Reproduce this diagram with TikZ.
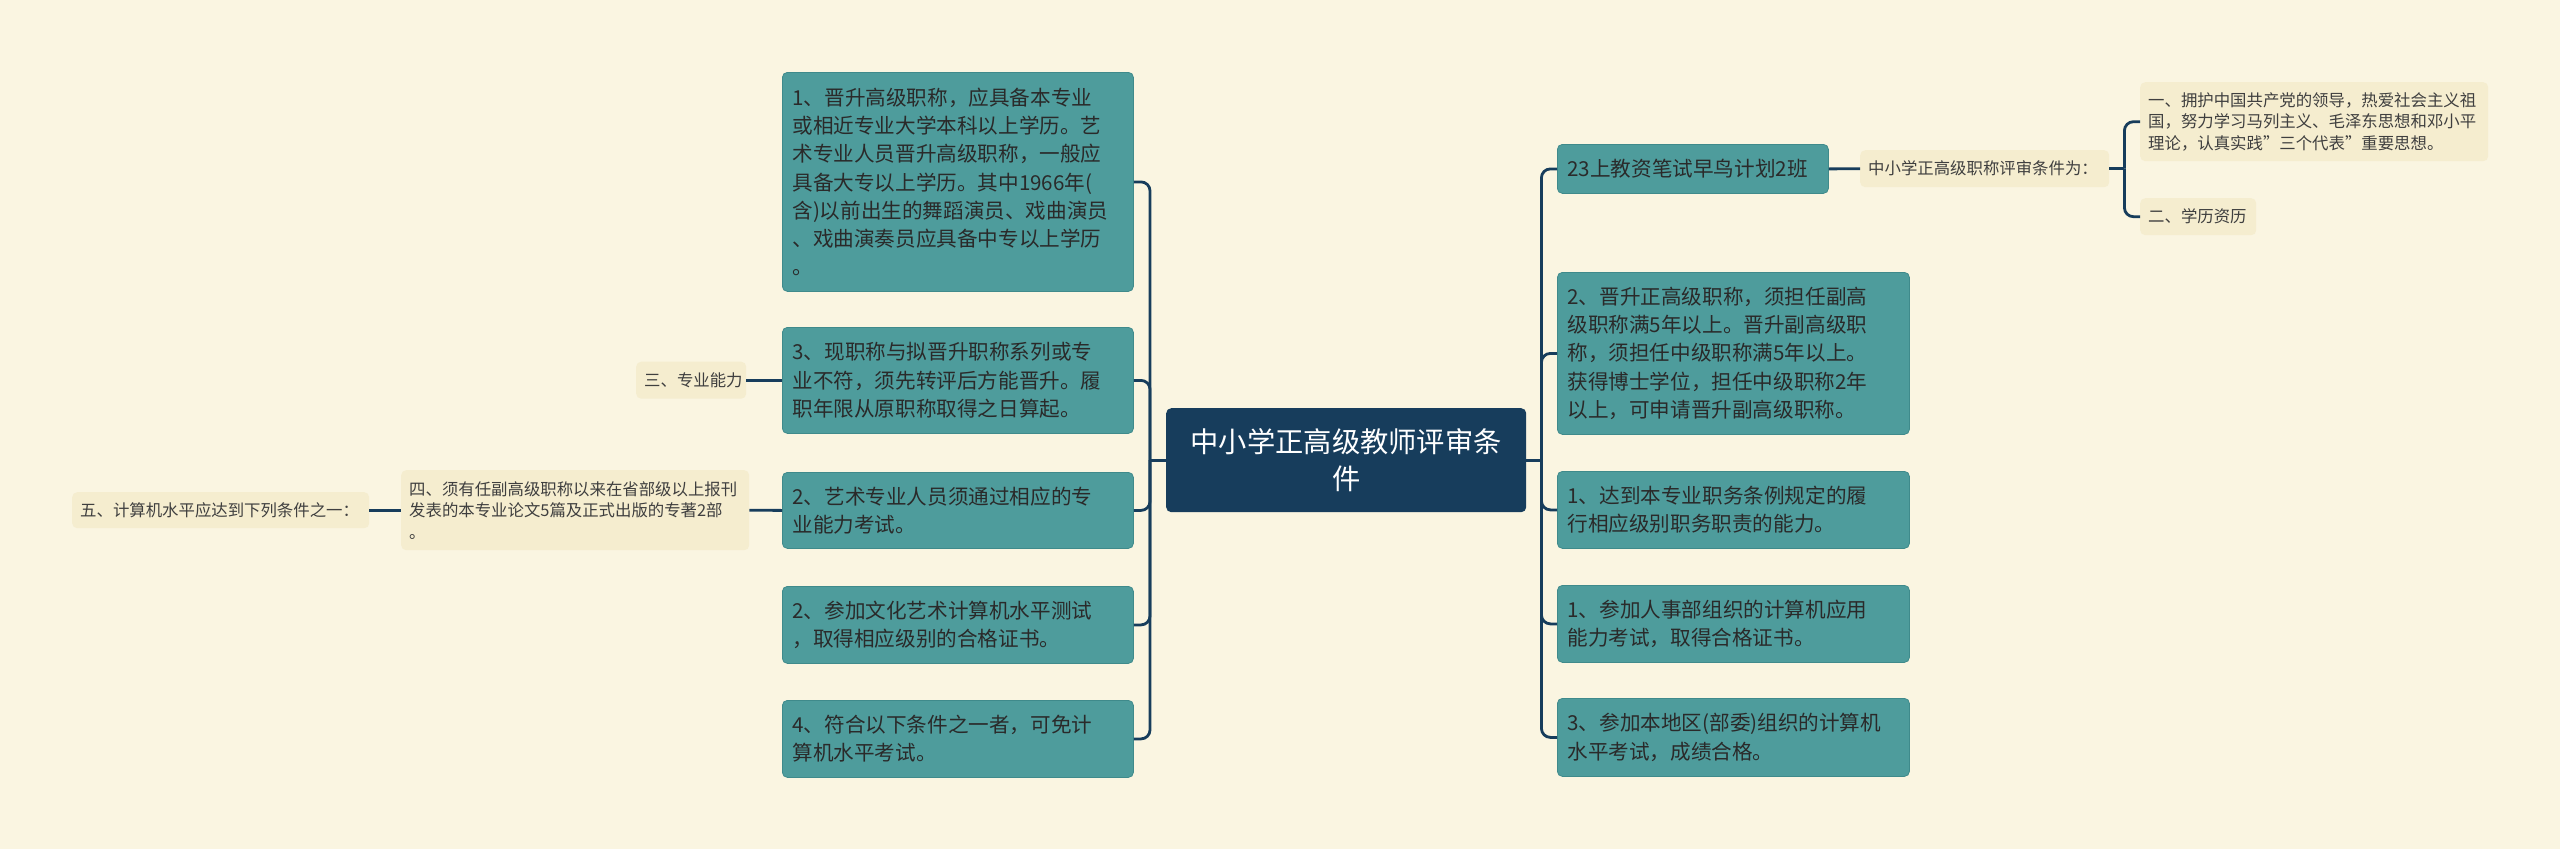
\documentclass[tikz,border=0pt]{standalone}
\usepackage{fontspec}
\setmainfont{Noto Sans CJK SC}
\usetikzlibrary{positioning}
\definecolor{paper}{HTML}{FAF5E1}
\definecolor{navy}{HTML}{173D5C}
\definecolor{tealbox}{HTML}{4E9C9C}
\definecolor{tealedge}{HTML}{3F8A8B}
\definecolor{cream}{HTML}{F5EDCF}
\definecolor{ink}{HTML}{2A2A2A}
\newcommand{\sq}{\symbol{34}}
\tikzset{
  root/.style={fill=navy, text=white, rounded corners=5pt, anchor=north west,
    align=center, inner xsep=10pt, inner ysep=0pt,
    font=\fontsize{28.3}{37}\selectfont},
  leaf/.style={fill=tealbox, draw=tealedge, line width=0.8pt, text=ink,
    rounded corners=5pt, anchor=north west, align=left, inner xsep=10pt,
    inner ysep=0pt, font=\fontsize{20.6}{28.3}\selectfont},
  note/.style={fill=cream, text=ink!90, rounded corners=5pt, anchor=north west,
    align=left, inner xsep=8pt, inner ysep=0pt,
    font=\fontsize{16.4}{21.5}\selectfont},
  link/.style={draw=navy, line width=2.8pt, rounded corners=9pt}
}
\begin{document}
\begin{tikzpicture}[x=1pt,y=-1pt]
  \fill[paper] (0,0) rectangle (2560,849);
  \useasboundingbox (0,0) rectangle (2560,849);

  % centre
  \node[root, text width=340pt, minimum height=104pt] (root) at (1166,408)
    {中小学正高级教师评审条\\件};

  % left side
  \node[leaf, text width=331pt, minimum height=219pt] (l1) at (782,72)
    {1、晋升高级职称，应具备本专业\\或相近专业大学本科以上学历。艺\\术专业人员晋升高级职称，一般应\\具备大专以上学历。其中1966年(\\含)以前出生的舞蹈演员、戏曲演员\\、戏曲演奏员应具备中专以上学历\\。};
  \node[leaf, text width=331pt, minimum height=106pt] (l2) at (782,327)
    {3、现职称与拟晋升职称系列或专\\业不符，须先转评后方能晋升。履\\职年限从原职称取得之日算起。};
  \node[leaf, text width=331pt, minimum height=76pt] (l3) at (782,472)
    {2、艺术专业人员须通过相应的专\\业能力考试。};
  \node[leaf, text width=331pt, minimum height=77pt] (l4) at (782,586)
    {2、参加文化艺术计算机水平测试\\，取得相应级别的合格证书。};
  \node[leaf, text width=331pt, minimum height=77pt] (l5) at (782,700)
    {4、符合以下条件之一者，可免计\\算机水平考试。};

  \node[note, text width=94pt, minimum height=37pt] (s1) at (636,361.5)
    {三、专业能力};
  \node[note, text width=332pt, minimum height=80pt] (s2) at (401,470)
    {四、须有任副高级职称以来在省部级以上报刊\\发表的本专业论文5篇及正式出版的专著2部\\。};
  \node[note, text width=281pt, minimum height=36pt] (s3) at (72,492)
    {五、计算机水平应达到下列条件之一：};

  % right side
  \node[leaf, text width=251pt, minimum height=49pt] (r1) at (1557,144)
    {23上教资笔试早鸟计划2班};
  \node[leaf, text width=332pt, minimum height=162pt] (r2) at (1557,272)
    {2、晋升正高级职称，须担任副高\\级职称满5年以上。晋升副高级职\\称，须担任中级职称满5年以上。\\获得博士学位，担任中级职称2年\\以上，可申请晋升副高级职称。};
  \node[leaf, text width=332pt, minimum height=77pt] (r3) at (1557,471)
    {1、达到本专业职务条例规定的履\\行相应级别职务职责的能力。};
  \node[leaf, text width=332pt, minimum height=77pt] (r4) at (1557,585)
    {1、参加人事部组织的计算机应用\\能力考试，取得合格证书。};
  \node[leaf, text width=332pt, minimum height=78pt] (r5) at (1557,698)
    {3、参加本地区(部委)组织的计算机\\水平考试，成绩合格。};

  \node[note, text width=233pt, minimum height=37pt] (t1) at (1860,150)
    {中小学正高级职称评审条件为：};
  \node[note, text width=332pt, minimum height=79pt] (u1) at (2140,82)
    {一、拥护中国共产党的领导，热爱社会主义祖\\国，努力学习马列主义、毛泽东思想和邓小平\\理论，认真实践\sq 三个代表\sq 重要思想。};
  \node[note, text width=100pt, minimum height=37pt] (u2) at (2140,198)
    {二、学历资历};

  % connectors
  \coordinate[left=16pt of root] (lj);
  \coordinate[right=15pt of root] (rj);
  \coordinate[right=15pt of t1] (tj);
  \draw[link] (root.west) -- (lj);
  \draw[link] (root.east) -- (rj);
  \foreach \n in {l1,l2,l3,l4,l5}
    \draw[link] (lj) |- (\n.east);
  \foreach \n in {r1,r2,r3,r4,r5}
    \draw[link] (rj) |- (\n.west);
  \draw[link] (s1.east) -- (s1.east -| l2.west);
  \draw[link] (s2.east) -- (l3.west);
  \draw[link] (s3.east) -- (s2.west);
  \draw[link] (r1.east) -- (t1.west);
  \draw[link] (t1.east) -- (tj);
  \draw[link] (tj) |- (u1.west);
  \draw[link] (tj) |- (u2.west);
\end{tikzpicture}
\end{document}
